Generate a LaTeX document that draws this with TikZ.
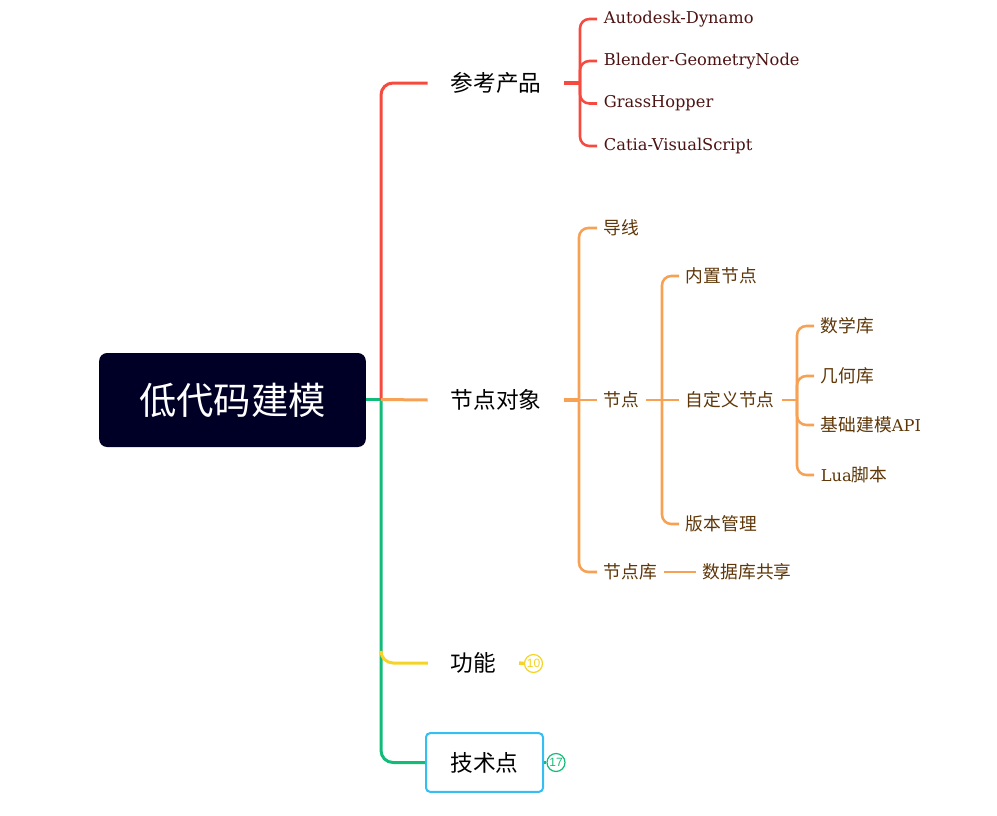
\documentclass[tikz,border=0pt]{standalone}
\usepackage{fontspec}
\setmainfont{DejaVu Serif}
\newfontfamily\cjk{Noto Sans CJK SC}
\newfontfamily\badgefont{Liberation Sans}
\newcommand{\lc}{\cjk\fontsize{13.3}{15}\selectfont}
\definecolor{cred}{HTML}{F74A3F}
\definecolor{corange}{HTML}{F7A154}
\definecolor{cyellow}{HTML}{F5D327}
\definecolor{cgreen}{HTML}{12BC78}
\definecolor{cblue}{HTML}{36BDF2}
\definecolor{rootc}{HTML}{000026}
\definecolor{redtext}{HTML}{4D1212}
\definecolor{orangetext}{HTML}{5E3608}
\begin{document}
\begin{tikzpicture}[x=0.75pt,y=-0.75pt,
  rootbox/.style={fill=rootc, rounded corners=6pt, minimum width=200pt, minimum height=70.5pt,
    text=white, font=\cjk\fontsize{28}{30}\selectfont, inner sep=0pt},
  lvone/.style={inner xsep=17pt, inner ysep=2pt, font=\cjk\fontsize{17}{20}\selectfont, text=black},
  leaf/.style={anchor=west, inner xsep=5pt, inner ysep=1pt, font=\fontsize{12.2}{14}\selectfont},
  rleaf/.style={leaf, text=redtext},
  oleaf/.style={leaf, text=orangetext},
  trunk/.style={line width=2.25pt, rounded corners=9pt},
  branch/.style={line width=1.9pt, rounded corners=7pt},
  stub/.style={line width=2.6pt},
  badge/.style={circle, draw, fill=white, line width=0.9pt, minimum size=13.5pt, inner sep=0pt,
    font=\badgefont\fontsize{9}{9}\selectfont}
]
\useasboundingbox (0,0) rectangle (997,815);

% root
\node[rootbox] (root) at (232.5,400) {低代码建模};

% level 1
\node[lvone] (cankao) at (496,83) {参考产品};
\node[lvone] (jdobj) at (496,400) {节点对象};
\node[lvone] (gongneng) at (473.5,663) {功能};
\node[lvone, draw=cblue, line width=1.5pt, rounded corners=3pt, minimum width=87.75pt,
      minimum height=44pt, inner xsep=0pt] (jishu) at (484.5,762.5) {技术点};

% trunk
\coordinate (t) at (381,399.5);
\coordinate (ystart) at (381,652);
\draw[trunk, cgreen, rounded corners=0pt] (root.east |- t) -- (t);
\draw[trunk, cgreen] (t) |- (jishu.west);
\draw[trunk, cred] (t) |- (cankao.west);
\draw[trunk, corange, rounded corners=0pt] (t) -- (jdobj.west);
\draw[trunk, cyellow] (ystart) |- (gongneng.west);

% badges
\node[badge, draw=cyellow, text=cyellow] (b10) at (533.5,663.5) {10};
\node[badge, draw=cgreen, text=cgreen] (b17) at (556,762.5) {17};
\draw[stub, cyellow] (gongneng.east) -- (b10.west);
\draw[stub, cgreen] (jishu.east) -- (b17.west);

% red children
\coordinate (jr) at (580,83);
\node[rleaf] (a1) at (597,19) {Autodesk-Dynamo};
\node[rleaf] (a2) at (597,61) {Blender-GeometryNode};
\node[rleaf] (a3) at (597,103.5) {GrassHopper};
\node[rleaf] (a4) at (597,146) {Catia-VisualScript};
\draw[stub, cred] (cankao.east) -- (jr);
\foreach \c in {a1,a2,a3,a4} \draw[branch, cred] (jr) |- (\c.west);

% orange children level 2
\coordinate (jo) at (579,400);
\node[oleaf] (daoxian) at (597,228) {{\lc 导线}};
\node[oleaf] (jd) at (597,400) {{\lc 节点}};
\node[oleaf] (jdk) at (597,572) {{\lc 节点库}};
\draw[stub, corange] (jdobj.east) -- (jo);
\draw[branch, corange] (jo) |- (daoxian.west);
\draw[branch, corange] (jo) -- (jd.west);
\draw[branch, corange] (jo) |- (jdk.west);

% level 3 under 节点
\coordinate (jn) at (662,400);
\node[oleaf] (neizhi) at (679,276) {{\lc 内置节点}};
\node[oleaf] (zidingyi) at (679,400) {{\lc 自定义节点}};
\node[oleaf] (banben) at (679,524) {{\lc 版本管理}};
\draw[branch, corange] (jd.east) -- (jn);
\draw[branch, corange] (jn) |- (neizhi.west);
\draw[branch, corange] (jn) -- (zidingyi.west);
\draw[branch, corange] (jn) |- (banben.west);

% level 4 under 自定义节点
\coordinate (jz) at (797,400);
\node[oleaf] (shuxue) at (814,326) {{\lc 数学库}};
\node[oleaf] (jihe) at (814,376) {{\lc 几何库}};
\node[oleaf] (jichu) at (814,425) {{\lc 基础建模}API};
\node[oleaf] (lua) at (814,475) {Lua{\lc 脚本}};
\draw[branch, corange] (zidingyi.east) -- (jz);
\foreach \c in {shuxue,jihe,jichu,lua} \draw[branch, corange] (jz) |- (\c.west);

% 节点库 -> 数据库共享
\node[oleaf] (shuju) at (696,572) {{\lc 数据库共享}};
\draw[branch, corange] (jdk.east) -- (shuju.west);
\end{tikzpicture}
\end{document}
